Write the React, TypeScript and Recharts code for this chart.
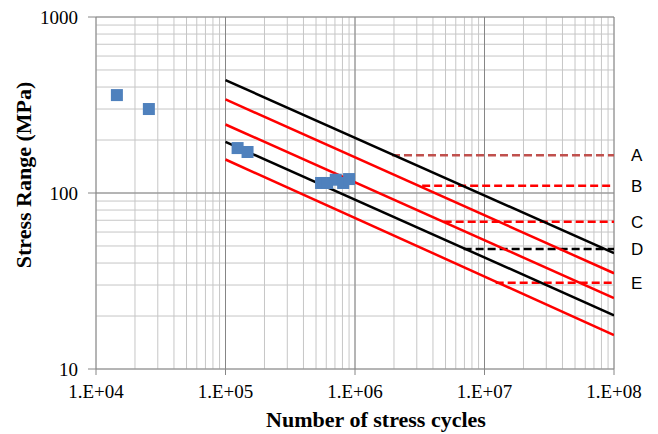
import React from 'react'
import {
  ComposedChart,
  Line,
  Scatter,
  XAxis,
  YAxis,
  CartesianGrid,
  ReferenceLine,
} from 'recharts'

// axis decades and labels
const xMajor = [1e4, 1e5, 1e6, 1e7, 1e8]
const xLabels = ['1.E+04', '1.E+05', '1.E+06', '1.E+07', '1.E+08']
const yMajor = [10, 100, 1000]
const yLabels = ['10', '100', '1000']
const logSteps = [1, 2, 3, 4, 5, 6, 7, 8, 9]

// test results (cycles, stress range MPa)
const testCycles = [1.45e4, 2.56e4, 1.24e5, 1.48e5, 5.47e5, 6.1e5, 7.1e5, 8.1e5, 9.0e5]
const testStress = [360, 300, 180, 171, 114, 114, 119, 114, 120]

// detail categories: sloped S-N curves
const categories = ['A', 'B', 'C', 'D', 'E']
const curveCycles = [1e5, 1e8]
const curveStressStart = [438, 340, 245, 195, 155]
const curveStressEnd = [45.5, 35, 25.3, 20.2, 15.6]
const curveColors = ['#000000', '#ff0000', '#ff0000', '#000000', '#ff0000']

// constant amplitude fatigue thresholds
const thresholdStress = [164, 110, 68.7, 48.1, 30.9]
const thresholdStartCycles = [1.93e6, 3.3e6, 4.84e6, 6.9e6, 1.22e7]
const thresholdColors = ['#c0504d', '#ff0000', '#ff0000', '#000000', '#ff0000']

const xTicks = xMajor
  .slice(0, -1)
  .flatMap((m) => logSteps.map((s) => m * s))
  .concat([xMajor[xMajor.length - 1]])
const yTicks = yMajor
  .slice(0, -1)
  .flatMap((m) => logSteps.map((s) => m * s))
  .concat([yMajor[yMajor.length - 1]])

const testData = testCycles.map((n, i) => ({ n, s: testStress[i] }))
const curves = categories.map((c, i) => ({
  name: c,
  color: curveColors[i],
  data: [
    { n: curveCycles[0], s: curveStressStart[i] },
    { n: curveCycles[1], s: curveStressEnd[i] },
  ],
}))

const serif = '"Liberation Serif", "Times New Roman", serif'
const axisGray = '#868686'

const XTick = (props: any) => {
  const { x, y, payload } = props
  const i = xMajor.indexOf(payload.value)
  if (i < 0) return null
  return (
    <g>
      <line x1={x} x2={x} y1={y} y2={y + 6} stroke={axisGray} />
      <text x={x} y={y + 29} textAnchor="middle" fontFamily={serif} fontSize={19} fill="#000">
        {xLabels[i]}
      </text>
    </g>
  )
}

const YTick = (props: any) => {
  const { x, y, payload } = props
  const i = yMajor.indexOf(payload.value)
  if (i < 0) return null
  return (
    <g>
      <line x1={x - 8} x2={x} y1={y} y2={y} stroke={axisGray} />
      <text x={x - 18} y={y + 6.5} textAnchor="end" fontFamily={serif} fontSize={19} fill="#000">
        {yLabels[i]}
      </text>
    </g>
  )
}

const Square = (props: any) => {
  const { cx, cy } = props
  return <rect x={cx - 6} y={cy - 6} width={12} height={12} fill="#4f81bd" />
}

export default function App() {
  return (
    <div style={{ width: 658, height: 434 }}>
      <style>{'body{margin:0}'}</style>
      <ComposedChart
        width={658}
        height={434}
        margin={{ top: 17, right: 44, left: 0, bottom: 0 }}
      >
        <CartesianGrid stroke="#c6c6c6" strokeWidth={1} />
        <XAxis
          type="number"
          dataKey="n"
          scale="log"
          domain={[1e4, 1e8]}
          ticks={xTicks}
          interval={0}
          allowDataOverflow
          height={65}
          tickLine={false}
          tickSize={0}
          tickMargin={0}
          tick={<XTick />}
          stroke={axisGray}
          label={{
            position: 'insideBottom',
            content: (p: any) => {
              const vb = p.viewBox
              return (
                <text
                  x={vb.x + vb.width / 2 + 21}
                  y={vb.y + 58}
                  textAnchor="middle"
                  fontFamily={serif}
                  fontWeight="bold"
                  fontSize={22}
                  fill="#000"
                >
                  Number of stress cycles
                </text>
              )
            },
          }}
        />
        <YAxis
          type="number"
          dataKey="s"
          scale="log"
          domain={[10, 1000]}
          ticks={yTicks}
          interval={0}
          allowDataOverflow
          width={96}
          tickLine={false}
          tickSize={0}
          tickMargin={0}
          tick={<YTick />}
          stroke={axisGray}
          label={{
            position: 'insideLeft',
            content: (p: any) => {
              const vb = p.viewBox
              const cx = 23
              const cy = vb.y + vb.height / 2 - 18
              return (
                <text
                  x={cx}
                  y={cy}
                  transform={`rotate(-90 ${cx} ${cy})`}
                  textAnchor="middle"
                  dominantBaseline="central"
                  fontFamily={serif}
                  fontWeight="bold"
                  fontSize={22}
                  fill="#000"
                >
                  Stress Range (MPa)
                </text>
              )
            },
          }}
        />
        {xMajor.slice(1).map((v) => (
          <ReferenceLine key={`vx-${v}`} x={v} stroke={axisGray} strokeWidth={1} />
        ))}
        {yMajor.slice(1).map((v) => (
          <ReferenceLine key={`hy-${v}`} y={v} stroke={axisGray} strokeWidth={1} />
        ))}
        {categories.map((c, i) => (
          <ReferenceLine
            key={`th-${c}`}
            segment={[
              { x: thresholdStartCycles[i], y: thresholdStress[i] },
              { x: xMajor[xMajor.length - 1], y: thresholdStress[i] },
            ]}
            stroke={thresholdColors[i]}
            strokeWidth={2.5}
            strokeDasharray="8 4"
            label={{
              value: c,
              position: 'right',
              offset: 17,
              fontFamily: '"Liberation Sans", Arial, sans-serif',
              fontSize: 17,
              fill: '#000',
            }}
          />
        ))}
        {curves.map((c) => (
          <Line
            key={`curve-${c.name}`}
            data={c.data}
            dataKey="s"
            stroke={c.color}
            strokeWidth={2.5}
            dot={false}
            activeDot={false}
            isAnimationActive={false}
          />
        ))}
        <Scatter data={testData} dataKey="s" shape={<Square />} isAnimationActive={false} />
      </ComposedChart>
    </div>
  )
}
